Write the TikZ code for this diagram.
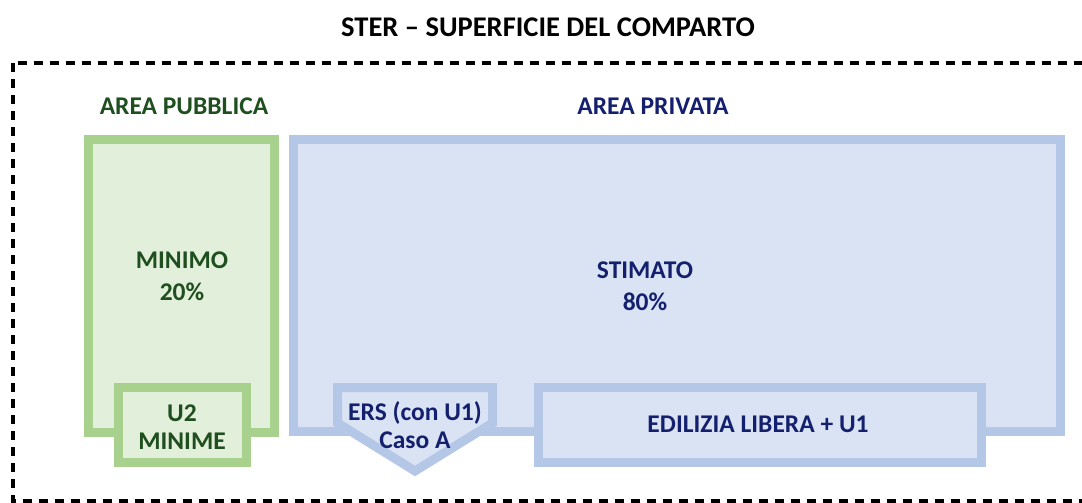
\documentclass[tikz,border=0pt]{standalone}
\usepackage{fontspec}
\setmainfont{Carlito}
\usepackage{tikz}
\definecolor{pubfill}{HTML}{E2EFDA}
\definecolor{publine}{HTML}{A9D18E}
\definecolor{pubtext}{HTML}{1F4E1F}
\definecolor{privfill}{HTML}{DAE3F3}
\definecolor{privline}{HTML}{B4C7E7}
\definecolor{privtext}{HTML}{14206E}
\tikzset{
  frame/.style={draw=black, line width=4pt, dash pattern=on 9pt off 7pt},
  pub/.style={fill=pubfill, draw=publine, line width=9pt, line join=miter},
  priv/.style={fill=privfill, draw=privline, line width=9pt, line join=miter},
  title/.style={text=black, font=\fontsize{28.5}{32}\selectfont\bfseries},
  labpub/.style={text=pubtext, align=center, inner sep=0pt, font=\fontsize{25.5}{32}\selectfont\bfseries},
  labpriv/.style={text=privtext, align=center, inner sep=0pt, font=\fontsize{25.5}{32}\selectfont\bfseries},
  tight/.style={font=\fontsize{25.5}{28}\selectfont\bfseries},
}
\begin{document}
\begin{tikzpicture}[x=1pt,y=-1pt]
  \useasboundingbox (0,0) rectangle (1082,503);
  \clip (0,0) rectangle (1082,503);

  % outer frame
  \draw[frame] (13,63) rectangle (1110,501);
  \node[title, anchor=base] (ster) at (548,37) {STER – SUPERFICIE DEL COMPARTO};

  % big areas
  \filldraw[pub] (88.5,139.5) rectangle (274.5,432.5);
  \filldraw[priv] (293.5,139.5) rectangle (1060.5,431.5);
  \node[labpub, anchor=base] (pubblica) at (184,114) {AREA PUBBLICA};
  \node[labpriv, anchor=base] (privata) at (653,114) {AREA PRIVATA};
  \node[labpub] (minimo) at (182,276) {MINIMO\\20\%};
  \node[labpriv] (stimato) at (645,286) {STIMATO\\80\%};

  % inner boxes
  \filldraw[pub] (118.5,387.5) rectangle (246.5,462.5);
  \filldraw[priv] (337.5,387.5) -- (492.5,387.5) -- (492.5,423)
    -- (415,471) -- (337.5,423) -- cycle;
  \filldraw[priv] (538.5,387.5) rectangle (981.5,462.5);
  \node[labpub, tight] (u2) at (182,427) {U2\\MINIME};
  \node[labpriv, tight] (ers) at (415,425) {ERS (con U1)\\Caso A};
  \node[labpriv] (libera) at (758,424) {EDILIZIA LIBERA + U1};
\end{tikzpicture}
\end{document}
